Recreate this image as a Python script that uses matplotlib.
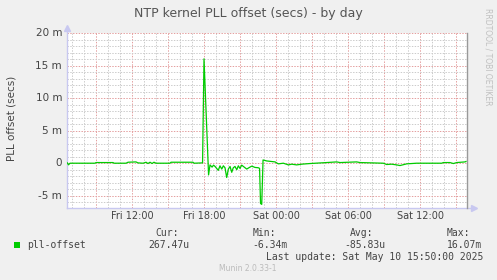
import matplotlib
matplotlib.use("Agg")
import matplotlib.pyplot as plt
from matplotlib.ticker import MultipleLocator
from matplotlib.lines import Line2D

# hours since Fri 00:00, offset in milliseconds
hours = [6.61, 6.71, 6.83, 8.92, 9.0, 10.42, 10.5, 11.5, 11.67, 12.33, 12.5,
         12.92, 13.17, 13.33, 13.5, 13.67, 13.83, 14.0, 15.17, 15.25, 17.08,
         17.17, 17.88, 18.0, 18.38, 18.5, 18.67, 18.79, 18.92, 19.19, 19.33,
         19.48, 19.61, 19.75, 19.89, 20.03, 20.17, 20.31, 20.44, 20.58, 20.73,
         20.86, 21.0, 21.14, 21.28, 21.56, 21.83, 21.98, 22.25, 22.53, 22.63,
         22.71, 22.81, 22.92, 23.22, 23.92, 24.19, 24.61, 25.03, 25.31, 25.72,
         26.14, 26.83, 28.22, 29.06, 29.33, 30.72, 31.0, 32.94, 33.22, 33.64,
         34.06, 34.33, 34.89, 35.72, 37.81, 37.94, 38.5, 38.78, 39.06, 39.75,
         39.83]
offset_ms = [0.05, -0.25, 0.0, 0.0, 0.1, 0.1, 0.0, 0.0, 0.15, 0.2, 0.05,
             0.0, 0.15, -0.05, 0.15, -0.05, 0.15, 0.0, 0.0, 0.15, 0.15,
             0.0, 0.05, 16.07, -1.8, -0.26, -0.6, -0.3, -0.5, -1.1, -0.4,
             -0.9, -0.4, -0.7, -2.2, -0.9, -0.5, -1.4, -0.7, -0.5, -1.0,
             -0.4, -0.8, -0.3, -0.5, -0.9, -0.6, -0.45, -0.65, -0.7, -0.8,
             -6.2, -6.34, 0.5, 0.35, 0.2, -0.1, 0.0, -0.26, -0.15, -0.26,
             -0.15, -0.05, 0.1, 0.2, 0.1, 0.2, 0.1, 0.0, -0.2, -0.15,
             -0.26, -0.36, -0.1, 0.0, 0.0, 0.1, 0.1, -0.05, 0.1, 0.2,
             0.27]

x_ticks = [12, 18, 24, 30, 36]
x_labels = ["Fri 12:00", "Fri 18:00", "Sat 00:00", "Sat 06:00", "Sat 12:00"]
y_ticks = [-5, 0, 5, 10, 15, 20]
y_labels = ["-5 m", "0", "5 m", "10 m", "15 m", "20 m"]

legend_cols = ["Cur:", "Min:", "Avg:", "Max:"]
legend_vals = ["267.47u", "-6.34m", "-85.83u", "16.07m"]

BG = "#f0f0f0"
TXT = "#444444"
TITLE = "#555555"
GREEN = "#00cc00"
MAJOR = "#e4a0a0"
MINOR = "#cccccc"
AXIS = "#c8c8f0"

W, H = 497, 280
fig = plt.figure(figsize=(W / 100, H / 100), dpi=100, facecolor=BG)
ax = fig.add_axes([67 / W, (H - 207.7) / H, 399.7 / W, 174.4 / H])
ax.set_facecolor("white")

ax.set_xlim(6.583, 39.89)
ax.set_ylim(-6.85, 20)

# dotted rrdtool-like grid
ax.xaxis.set_major_locator(MultipleLocator(3))
ax.xaxis.set_minor_locator(MultipleLocator(1))
ax.yaxis.set_major_locator(MultipleLocator(5))
ax.yaxis.set_minor_locator(MultipleLocator(1))
ax.grid(which="minor", color=MINOR, linewidth=0.72, dashes=(1.4, 1.4))
ax.grid(which="major", color=MAJOR, linewidth=0.72, dashes=(1.4, 1.4))
ax.set_axisbelow(True)
ax.tick_params(which="both", length=0, labelbottom=False, labelleft=False)

ax.plot(hours, offset_ms, color=GREEN, linewidth=0.9, zorder=3)

for s in ax.spines.values():
    s.set_visible(False)

# axis lines with arrows
ax.add_line(Line2D([0, 0], [0, 1.025], transform=ax.transAxes, color=AXIS,
                   linewidth=1.0, clip_on=False))
ax.add_line(Line2D([0, 1.015], [0, 0], transform=ax.transAxes, color=AXIS,
                   linewidth=1.0, clip_on=False))
ax.add_line(Line2D([1, 1], [0, 1], transform=ax.transAxes, color="#999999",
                   linewidth=1.0, clip_on=False))
ax.plot([0], [1.03], marker="^", markersize=4, color=AXIS,
        transform=ax.transAxes, clip_on=False)
ax.plot([1.018], [0], marker=">", markersize=4, color=AXIS,
        transform=ax.transAxes, clip_on=False)

# tick labels
for xv, lab in zip(x_ticks, x_labels):
    ax.annotate(lab, xy=(xv, 0), xycoords=("data", "axes fraction"),
                xytext=(0, -3), textcoords="offset pixels",
                ha="center", va="top", fontsize=7, color=TXT)
for yv, lab in zip(y_ticks, y_labels):
    ax.annotate(lab, xy=(0, yv), xycoords=("axes fraction", "data"),
                xytext=(-5, 0), textcoords="offset pixels",
                ha="right", va="center", fontsize=7.5, color=TXT)

fig.text(248 / W, 1 - 13 / H, "NTP kernel PLL offset (secs) - by day",
         ha="center", va="center", fontsize=9, color=TITLE)
fig.text(12 / W, 1 - 118 / H, "PLL offset (secs)", rotation=90,
         ha="center", va="center", fontsize=7.5, color=TXT)
fig.text(488 / W, 1 - 57 / H, "RRDTOOL / TOBI OETIKER", rotation=270,
         ha="center", va="center", fontsize=5.5, color="#c0c0c0")

# legend
mono = "DejaVu Sans Mono"
fig.patches.append(plt.Rectangle((14 / W, 1 - 248 / H), 6 / W, 6 / H,
                                 transform=fig.transFigure, facecolor=GREEN,
                                 edgecolor="none"))
fig.text(27 / W, 1 - 245 / H, "pll-offset", family=mono, fontsize=7,
         ha="left", va="center", color=TXT)
col_x = [155, 252.7, 350, 447]
val_x = [148, 252.7, 344, 447]
for cx, vx, c, v in zip(col_x, val_x, legend_cols, legend_vals):
    fig.text(cx / W, 1 - 233.5 / H, c, family=mono, fontsize=7,
             ha="left", va="center", color=TXT)
    fig.text(vx / W, 1 - 245.5 / H, v, family=mono, fontsize=7,
             ha="left", va="center", color=TXT)
fig.text(483 / W, 1 - 257.5 / H, "Last update: Sat May 10 15:50:00 2025",
         family=mono, fontsize=7, ha="right", va="center", color=TXT)
fig.text(248 / W, 1 - 268.5 / H, "Munin 2.0.33-1", fontsize=5.5,
         ha="center", va="center", color="#bbbbbb")

fig.savefig("out.png", dpi=100, facecolor=BG)
